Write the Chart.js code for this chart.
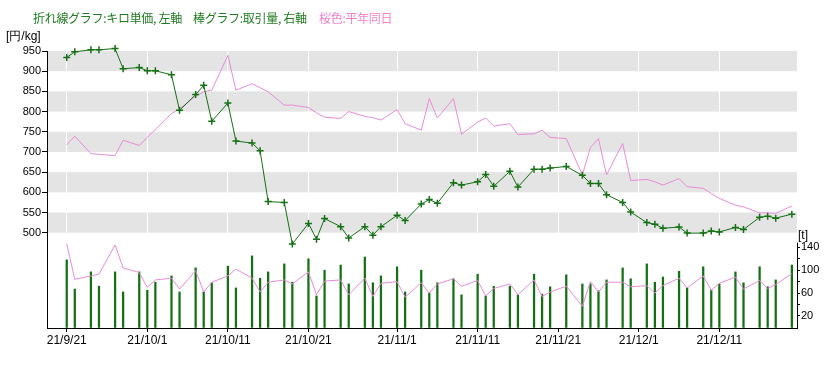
<!DOCTYPE html>
<html>
<head>
<meta charset="utf-8">
<script src="https://cdn.jsdelivr.net/npm/chart.js@4"></script>
<style>
  body { margin: 0; background: #fff; }
  #wrap { position: relative; width: 840px; height: 368px; }
  .t { position: absolute; font: 12px "Noto Sans CJK JP", sans-serif; white-space: pre; line-height: 14px; }
</style>
</head>
<body>
<div id="wrap">
  <canvas id="c" width="840" height="368"></canvas>
  <span class="t" style="left:33px;top:11px;color:#1f7a1f;letter-spacing:-0.3px">折れ線グラフ:キロ単価, 左軸</span>
  <span class="t" style="left:193px;top:11px;color:#1f7a1f;letter-spacing:-0.3px">棒グラフ:取引量, 右軸</span>
  <span class="t" style="left:319px;top:11px;color:#ee82cc;letter-spacing:-0.3px">桜色:平年同日</span>
  <span class="t" style="left:6px;top:29px;color:#000;font-family:'Liberation Sans',sans-serif">[円/kg]</span>
  <span class="t" style="left:798px;top:228px;color:#000;font-family:'Liberation Sans',sans-serif">[t]</span>
</div>
<script>
/* 取引日 */
const dates = [
  '2021-09-21','2021-09-22','2021-09-24','2021-09-25','2021-09-27','2021-09-28','2021-09-30',
  '2021-10-01','2021-10-02','2021-10-04','2021-10-05','2021-10-07','2021-10-08','2021-10-09',
  '2021-10-11','2021-10-12','2021-10-14','2021-10-15','2021-10-16','2021-10-18','2021-10-19',
  '2021-10-21','2021-10-22','2021-10-23','2021-10-25','2021-10-26','2021-10-28','2021-10-29',
  '2021-10-30','2021-11-01','2021-11-02','2021-11-04','2021-11-05','2021-11-06','2021-11-08',
  '2021-11-09','2021-11-11','2021-11-12','2021-11-13','2021-11-15','2021-11-16','2021-11-18',
  '2021-11-19','2021-11-20','2021-11-22','2021-11-24','2021-11-25','2021-11-26','2021-11-27',
  '2021-11-29','2021-11-30','2021-12-02','2021-12-03','2021-12-04','2021-12-06','2021-12-07',
  '2021-12-09','2021-12-10','2021-12-11','2021-12-13','2021-12-14','2021-12-16','2021-12-17',
  '2021-12-18','2021-12-20'
];
/* キロ単価 (円/kg) */
const price = [
  934, 948, 953, 953, 956, 906, 909, 901, 901, 891, 803, 842, 865, 776,
  821, 727, 722, 703, 577, 575, 472, 523, 484, 535, 515, 487, 515, 494,
  515, 543, 530, 571, 582, 573, 624, 618, 626, 644, 615, 652, 613, 657,
  657, 660, 664, 642, 622, 622, 594, 575, 551, 525, 521, 511, 514, 499,
  499, 504, 502, 513, 508, 538, 541, 536, 546
];
/* 平年同日 単価 */
const pricePrev = [
  718, 739, 696, 694, 691, 729, 716, 736, 756, 795, 807, 838, 849, 853,
  939, 853, 869, 859, 849, 816, 816, 810, 797, 786, 783, 800, 788, 785,
  779, 805, 770, 754, 832, 784, 832, 744, 774, 784, 764, 770, 743, 745,
  754, 736, 733, 643, 711, 733, 643, 721, 629, 632, 626, 618, 634, 614,
  610, 597, 585, 568, 564, 549, 549, 548, 566
];
/* 取引量 (t) */
const volume = [
  118, 67, 97, 72, 97, 62, 97, 65, 79, 90, 62, 104, 62, 78,
  107, 69, 125, 86, 97, 111, 79, 120, 55, 100, 109, 76, 123, 78,
  90, 106, 62, 100, 60, 78, 85, 57, 93, 55, 72, 72, 57, 93,
  58, 71, 92, 76, 76, 64, 83, 104, 85, 111, 79, 88, 98, 69,
  106, 65, 76, 97, 78, 106, 71, 83, 109
];
/* 平年同日 取引量 */
const volumePrev = [
  146, 84, 90, 93, 144, 104, 96, 70, 83, 86, 67, 99, 62, 79,
  90, 102, 86, 62, 79, 83, 76, 97, 57, 81, 83, 57, 86, 54,
  77, 80, 53, 78, 60, 76, 85, 72, 82, 55, 68, 76, 57, 83,
  54, 62, 72, 37, 80, 62, 79, 79, 71, 73, 60, 73, 86, 69,
  90, 65, 77, 88, 67, 82, 68, 75, 94
];
const tickDates = ['2021-09-21','2021-10-01','2021-10-11','2021-10-21','2021-11-01','2021-11-11','2021-11-21','2021-12-01','2021-12-11'];
const tickLabels = ['21/9/21','21/10/1','21/10/11','21/10/21','21/11/1','21/11/11','21/11/21','21/12/1','21/12/11'];
const priceTicks = [500, 550, 600, 650, 700, 750, 800, 850, 900, 950];
const volTicks = [20, 40, 60, 80, 100, 120, 140];
const volLabels = [20, 60, 100, 140];

const GREEN = '#157015';
const PINK = '#e88bd8';
const t0 = Date.parse(dates[0]);
const dayOf = (s) => (Date.parse(s) - t0) / 86400000;
const pts = (arr) => arr.map((v, i) => ({ x: dayOf(dates[i]), y: v }));

/* 灰色の帯 (500-550, 600-650, ...) */
const bands = {
  id: 'bands',
  beforeDraw(chart) {
    const { ctx, chartArea } = chart;
    const y = chart.scales.y;
    ctx.save();
    ctx.fillStyle = '#e4e4e4';
    for (let v = priceTicks[0]; v < priceTicks[priceTicks.length - 1]; v += 100) {
      const top = y.getPixelForValue(v + 50);
      const bot = y.getPixelForValue(v);
      ctx.fillRect(chartArea.left, top, chartArea.right - chartArea.left, bot - top);
    }
    ctx.restore();
  },
};

/* 右軸の線は下段だけ */
const rightAxisLine = {
  id: 'rightAxisLine',
  afterDraw(chart) {
    const { ctx, chartArea } = chart;
    const y1 = chart.scales.y1;
    ctx.save();
    ctx.strokeStyle = '#000';
    ctx.lineWidth = 1;
    ctx.beginPath();
    ctx.moveTo(chartArea.right + 0.5, y1.getPixelForValue(148));
    ctx.lineTo(chartArea.right + 0.5, chartArea.bottom);
    ctx.stroke();
    ctx.restore();
  },
};

new Chart(document.getElementById('c'), {
  data: {
    datasets: [
      {
        type: 'line', data: pts(price), yAxisID: 'y', clip: false,
        borderColor: GREEN, borderWidth: 1, tension: 0,
        pointStyle: 'cross', pointRadius: 3.5, pointBorderColor: GREEN, pointBorderWidth: 1.5,
        order: 1,
      },
      {
        type: 'line', data: pts(pricePrev), yAxisID: 'y',
        borderColor: PINK, borderWidth: 1, tension: 0, pointRadius: 0,
        order: 2,
      },
      {
        type: 'line', data: pts(volumePrev), yAxisID: 'y1',
        borderColor: PINK, borderWidth: 1, tension: 0, pointRadius: 0,
        order: 3,
      },
      {
        type: 'bar', data: pts(volume), yAxisID: 'y1',
        backgroundColor: GREEN, barThickness: 1.6,
        order: 4,
      },
    ],
  },
  options: {
    responsive: false, animation: false, devicePixelRatio: 1,
    layout: { padding: { top: 51, left: 0, right: 0, bottom: 0 } },
    plugins: { legend: { display: false }, tooltip: { enabled: false } },
    scales: {
      x: {
        type: 'linear', min: -2.45, max: 90.64, offset: false,
        afterBuildTicks: (s) => { s.ticks = tickDates.map((d) => ({ value: dayOf(d) })); },
        afterFit: (s) => { s.height = 40; },
        ticks: {
          autoSkip: false, maxRotation: 0, minRotation: 0, padding: 1,
          color: '#000', font: { family: 'Liberation Sans', size: 12 },
          callback: (v, i) => tickLabels[i],
        },
        grid: { offset: false, color: '#fff', lineWidth: 1, drawTicks: true, tickLength: 4, tickColor: '#000' },
        border: { color: '#000', width: 1 },
      },
      y: {
        position: 'left', min: 264, max: 950,
        afterBuildTicks: (s) => { s.ticks = priceTicks.map((v) => ({ value: v })); },
        afterFit: (s) => { s.width = 47; },
        ticks: { color: '#000', padding: 1, font: { family: 'Liberation Sans', size: 11 } },
        grid: { drawOnChartArea: false, drawTicks: true, tickLength: 5, tickColor: '#000' },
        border: { color: '#000', width: 1 },
      },
      y1: {
        position: 'right', min: -1, max: 483,
        afterBuildTicks: (s) => { s.ticks = volTicks.map((v) => ({ value: v })); },
        afterFit: (s) => { s.width = 43; },
        ticks: {
          color: '#000', padding: 1, font: { family: 'Liberation Sans', size: 11 },
          callback: (v) => (volLabels.includes(v) ? v : ''),
        },
        grid: { drawOnChartArea: false, drawTicks: true, tickLength: 3, tickColor: '#000' },
        border: { display: false },
      },
    },
  },
  plugins: [bands, rightAxisLine],
});
</script>
</body>
</html>
